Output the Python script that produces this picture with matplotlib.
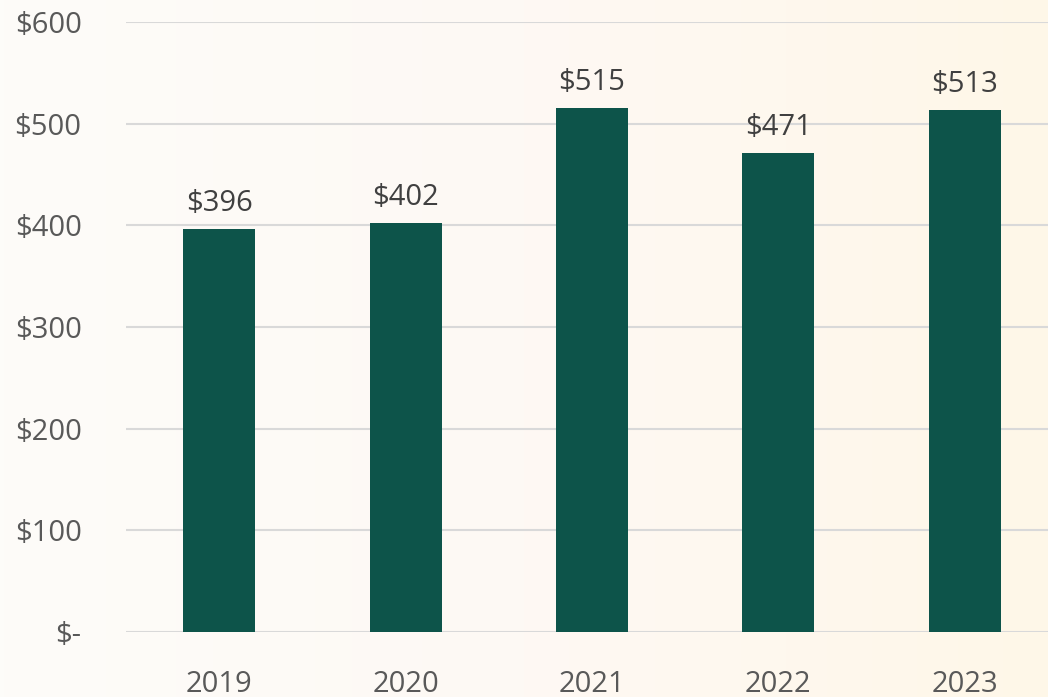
import numpy as np
import matplotlib.pyplot as plt
from matplotlib.colors import LinearSegmentedColormap

years = ['2019', '2020', '2021', '2022', '2023']
values = [396, 402, 515, 471, 513]
y_ticks = [0, 100, 200, 300, 400, 500, 600]
y_tick_labels = ['$-', '$100', '$200', '$300', '$400', '$500', '$600']

plt.rcParams['font.family'] = ['Open Sans', 'DejaVu Sans']

fig = plt.figure(figsize=(10.48, 6.97), dpi=100)

# soft background gradient (white-ish left, cream right)
bg = fig.add_axes([0, 0, 1, 1], zorder=-10)
cmap = LinearSegmentedColormap.from_list('bg', ['#FDFCF9', '#FEF9F4', '#FEF7E8'])
bg.imshow(np.linspace(0, 1, 256).reshape(1, -1), cmap=cmap, aspect='auto',
          extent=[0, 1, 0, 1])
bg.axis('off')

ax = fig.add_axes([126 / 1048, 65 / 697, 932 / 1048, 610 / 697])
ax.patch.set_alpha(0)

x = np.arange(len(years))
bars = ax.bar(x, values, width=0.386, color='#0D544A', zorder=3)

for xi, v in zip(x, values):
    ax.annotate(f'${v}', (xi, v), xytext=(0, 13), textcoords='offset points',
                ha='center', va='baseline', fontsize=21, color='#404040')

ax.set_xlim(-0.5, 4.5)
ax.set_ylim(0, 600)
ax.set_yticks(y_ticks)
ax.set_yticklabels(y_tick_labels)
ax.set_xticks(x)
ax.set_xticklabels(years)
ax.tick_params(axis='y', length=0, pad=32, labelsize=21, labelcolor='#595959')
ax.tick_params(axis='x', length=0, pad=27, labelsize=21, labelcolor='#595959')
ax.yaxis.grid(True, color='#D9D9D9', linewidth=1.5, zorder=0)
ax.set_axisbelow(True)
for s in ax.spines.values():
    s.set_visible(False)

fig.savefig('out.png', dpi=100)
